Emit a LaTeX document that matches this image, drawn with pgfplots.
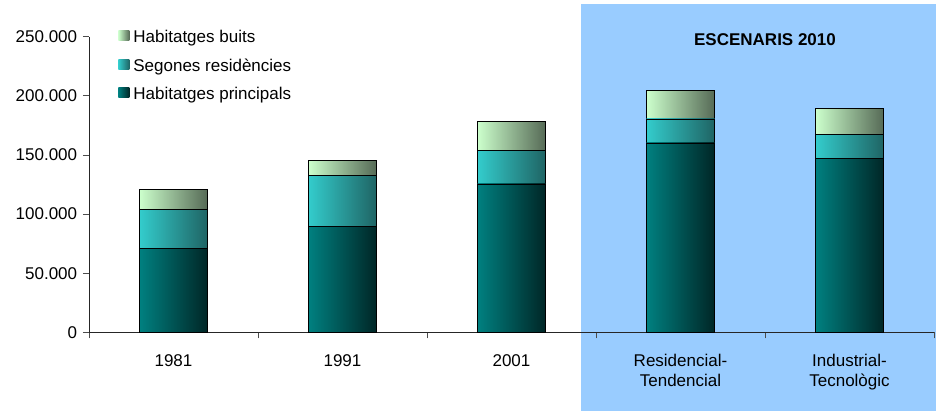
\documentclass[border=0pt]{standalone}
\usepackage{pgfplots}
\pgfplotsset{compat=1.18}
\usepackage{fontspec}
\setmainfont{Liberation Sans}
\definecolor{bluebg}{HTML}{99CCFF}
\definecolor{pA}{HTML}{008080}
\definecolor{pB}{HTML}{006868}
\definecolor{pC}{HTML}{002626}
\definecolor{sA}{HTML}{33CCCC}
\definecolor{sB}{HTML}{2CA0A0}
\definecolor{sC}{HTML}{1F6464}
\definecolor{bA}{HTML}{CCFFCC}
\definecolor{bB}{HTML}{A8CCA8}
\definecolor{bC}{HTML}{566A56}
\pgfplotsset{
  common/.style={
    at={(0,0)}, anchor=south west,
    scale only axis, width=845bp, height=295.5bp,
    ybar stacked, bar width=68bp,
    xmin=-0.5, xmax=4.5, ymin=0, ymax=250000,
    clip=false,
  },
  pstyle/.style={draw=black, line width=0.8bp, left color=pA, middle color=pB, right color=pC},
  sstyle/.style={draw=black, line width=0.8bp, left color=sA, middle color=sB, right color=sC},
  bstyle/.style={draw=black, line width=0.8bp, left color=bA, middle color=bB, right color=bC},
}
\begin{document}
\fontsize{17bp}{20bp}\selectfont
\begin{tikzpicture}
\useasboundingbox (-89bp,-79.7bp) rectangle (847bp,332.3bp);
\fill[bluebg] (492bp,-78.7bp) rectangle (847bp,328.3bp);
% axis with category 1981 and all decorations
\begin{axis}[
  common,
  axis x line*=bottom, axis y line*=left,
  axis line style={line width=0.8bp, black!85},
  xtick={0,1,2,3,4},
  xticklabels={1981,1991,2001,{Residencial-\\Tendencial},{Industrial-\\Tecnològic}},
  xticklabel style={align=center, yshift=-10bp},
  major x tick style={draw=none},
  minor xtick={-0.5,0.5,1.5,2.5,3.5,4.5},
  minor tick length=6bp, major tick length=6bp,
  tick align=outside,
  every tick/.style={black!70, line width=0.8bp},
  ytick={0,50000,100000,150000,200000,250000},
  yticklabels={0,50.000,100.000,150.000,200.000,250.000},
  scaled y ticks=false,
  reverse legend,
  legend cell align=left,
  legend style={at={(0.031,1.033)}, anchor=north west, draw=none, fill=none,
    row sep=11.5bp, column sep=3bp, nodes={inner sep=1bp}},
  legend image code/.code={\path[#1, draw=none] (0bp,-3bp) rectangle (11bp,7bp);},
]
\addplot[pstyle] coordinates {(0,71100)};
\addplot[sstyle] coordinates {(0,33200)};
\addplot[bstyle] coordinates {(0,16700)};
\legend{Habitatges principals, Segones residències, Habitatges buits}
\node[font=\bfseries] at (axis cs:3.5,247300) {ESCENARIS 2010};
\end{axis}
% 1991
\begin{axis}[common, hide axis]
\addplot[pstyle] coordinates {(1,89900)};
\addplot[sstyle] coordinates {(1,42900)};
\addplot[bstyle] coordinates {(1,12300)};
\end{axis}
% 2001
\begin{axis}[common, hide axis]
\addplot[pstyle] coordinates {(2,125500)};
\addplot[sstyle] coordinates {(2,28700)};
\addplot[bstyle] coordinates {(2,24000)};
\end{axis}
% Residencial-Tendencial
\begin{axis}[common, hide axis]
\addplot[pstyle] coordinates {(3,160200)};
\addplot[sstyle] coordinates {(3,20300)};
\addplot[bstyle] coordinates {(3,23900)};
\end{axis}
% Industrial-Tecnologic
\begin{axis}[common, hide axis]
\addplot[pstyle] coordinates {(4,147400)};
\addplot[sstyle] coordinates {(4,19900)};
\addplot[bstyle] coordinates {(4,22000)};
\end{axis}
\end{tikzpicture}
\end{document}
